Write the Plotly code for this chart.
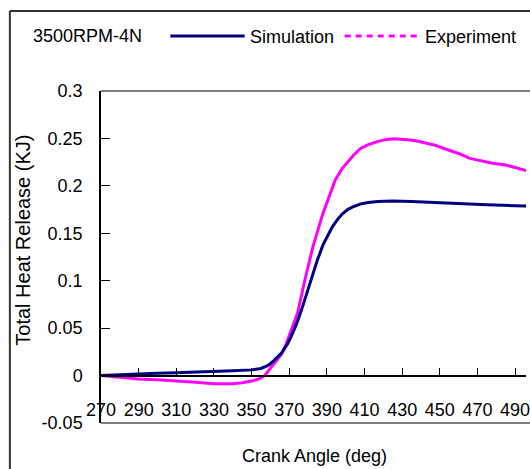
import plotly.graph_objects as go

# ---- data ----
sim_deg = [270, 280, 290, 300, 310, 320, 330, 340, 350, 355, 359, 362, 366, 369, 371, 374,
           376.5, 379, 381.7, 385, 388, 390.5, 393, 395.8, 398, 401, 404, 408, 412, 417,
           425, 435, 445, 460, 475, 490, 500]
sim_val = [0, 0.001, 0.002, 0.0025, 0.003, 0.0035, 0.004, 0.005, 0.006, 0.0075, 0.011, 0.016,
           0.024, 0.033, 0.041, 0.055, 0.069, 0.085, 0.100, 0.122, 0.138, 0.148, 0.157, 0.165,
           0.170, 0.175, 0.178, 0.181, 0.1825, 0.1835, 0.184, 0.1835, 0.1825, 0.181, 0.180,
           0.179, 0.1785]

exp_deg = [270, 280, 290, 300, 310, 320, 330, 340, 345, 350, 354, 357, 360.7, 363, 366, 368.5,
           371.2, 374.4, 378.3, 382.6, 387.9, 390.5, 394.4, 398, 401, 404, 408, 412, 416.8,
           421, 425.6, 430, 434.4, 439, 443.2, 448, 452, 456, 460.7, 466, 472, 478, 485, 490,
           496, 500]
exp_val = [0, -0.002, -0.0035, -0.0045, -0.0055, -0.007, -0.0085, -0.0085, -0.0075, -0.0058,
           -0.0035, 0.0, 0.0094, 0.015, 0.0228, 0.034, 0.048, 0.0657, 0.1008, 0.1359, 0.171,
           0.185, 0.206, 0.218, 0.2255, 0.232, 0.2396, 0.2435, 0.2466, 0.2487, 0.2497, 0.2492,
           0.2484, 0.2468, 0.2449, 0.2425, 0.2396, 0.237, 0.2336, 0.229, 0.2265, 0.2238, 0.222,
           0.2195, 0.2167, 0.214]

x_ticks = list(range(270, 500, 20))
y_ticks = [-0.05, 0, 0.05, 0.1, 0.15, 0.2, 0.25, 0.3]
y_ticktext = ["-0.05", "0", "0.05", "0.1", "0.15", "0.2", "0.25", "0.3"]

title_text = "3500RPM-4N"
sim_name = "Simulation"
exp_name = "Experiment"
x_title = "Crank Angle (deg)"
y_title = "Total Heat Release (KJ)"

# ---- layout geometry (pixels) ----
W, H = 530, 469
L, R, T, B = 101, 0, 91, 46
PW, PH = W - L - R, H - T - B
XMIN = 270
XMAX = 270 + PW / 1.9
YMIN, YMAX = -0.05, 0.3


def px(xp):
    return (xp - L) / PW


def py(yp):
    return (H - B - yp) / PH


FONT = "Liberation Sans, Arial, sans-serif"
NAVY = "#000080"
MAG = "#FF00FF"

fig = go.Figure()
fig.add_trace(go.Scatter(x=exp_deg, y=exp_val, mode="lines", name=exp_name,
                         line=dict(color=MAG, width=3), showlegend=False))
fig.add_trace(go.Scatter(x=sim_deg, y=sim_val, mode="lines", name=sim_name,
                         line=dict(color=NAVY, width=3), showlegend=False))

fig.update_layout(
    width=W, height=H,
    margin=dict(l=L, r=R, t=T, b=B, pad=0),
    paper_bgcolor="white", plot_bgcolor="white",
    font=dict(family=FONT, size=18, color="black"),
    xaxis=dict(range=[XMIN, XMAX], anchor="free", position=0.05 / 0.35,
               showgrid=False, zeroline=False,
               showline=True, linecolor="black", linewidth=1.5,
               ticks="inside", ticklen=7, tickcolor="black", tickwidth=1,
               tickvals=x_ticks, ticktext=[str(v) for v in x_ticks],
               ticklabelstandoff=18, ticklabeloverflow="allow",
               tickfont=dict(size=18, family=FONT)),
    yaxis=dict(range=[YMIN, YMAX], showgrid=False, zeroline=False,
               showline=True, linecolor="black", linewidth=1.5,
               ticks="inside", ticklen=9, tickcolor="black", tickwidth=1,
               tickvals=y_ticks, ticktext=y_ticktext,
               ticklabelstandoff=13, ticklabeloverflow="allow",
               tickfont=dict(size=18, family=FONT)),
)

shapes = []
# plot area top/bottom gray borders
shapes.append(dict(type="line", xref="paper", yref="paper", x0=0, x1=1.2, y0=1, y1=1,
                   line=dict(color="#808080", width=2)))
shapes.append(dict(type="line", xref="paper", yref="paper", x0=0, x1=1.2, y0=0, y1=0,
                   line=dict(color="#808080", width=2)))
# outer chart frame (left + top)
shapes.append(dict(type="line", xref="paper", yref="paper", x0=px(9), x1=px(9), y0=py(11), y1=py(480),
                   line=dict(color="#333333", width=2)))
shapes.append(dict(type="line", xref="paper", yref="paper", x0=px(9), x1=px(540), y0=py(11), y1=py(11),
                   line=dict(color="#333333", width=2)))
# legend samples
shapes.append(dict(type="line", xref="paper", yref="paper", x0=px(171), x1=px(246), y0=py(36), y1=py(36),
                   line=dict(color=NAVY, width=3)))
shapes.append(dict(type="line", xref="paper", yref="paper", x0=px(347), x1=px(424), y0=py(36), y1=py(36),
                   line=dict(color=MAG, width=3, dash="6px,5px")))
fig.update_layout(shapes=shapes)

ann = [
    dict(text=title_text, x=px(30), y=py(36), xanchor="left", yanchor="middle"),
    dict(text=sim_name, x=px(249), y=py(37), xanchor="left", yanchor="middle"),
    dict(text=exp_name, x=px(426), y=py(37), xanchor="left", yanchor="middle"),
    dict(text=x_title, x=px(317), y=py(456), xanchor="center", yanchor="middle"),
    dict(text=y_title, x=px(22), y=py(240), xanchor="center", yanchor="middle", textangle=-90,
         font=dict(size=20, family=FONT)),
]
for a in ann:
    a.setdefault("font", dict(size=18, family=FONT, color="black"))
    a.update(xref="paper", yref="paper", showarrow=False)
fig.update_layout(annotations=ann)

fig.write_html("out.html")
